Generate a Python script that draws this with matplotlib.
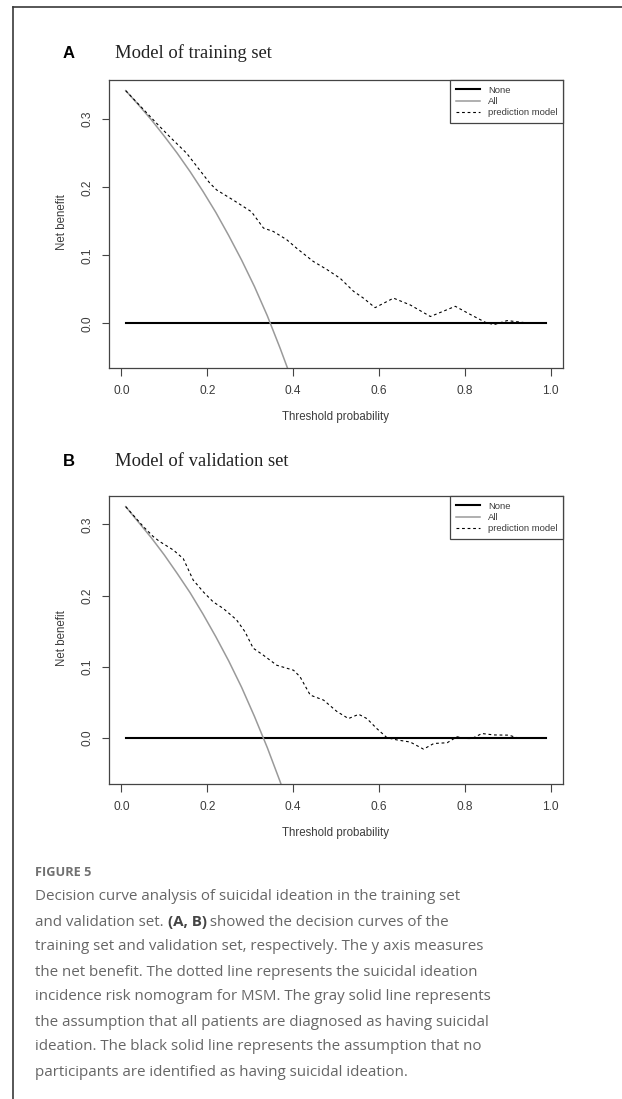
import numpy as np
import matplotlib
matplotlib.use("Agg")
import matplotlib.pyplot as plt
from matplotlib.lines import Line2D

# ---- data ----
thresh_all = [0.01, 0.04, 0.07, 0.10, 0.13, 0.16, 0.19, 0.22, 0.25, 0.28, 0.31, 0.34, 0.37, 0.40]
all_train = [0.342, 0.321, 0.299, 0.275, 0.250, 0.223, 0.194, 0.163, 0.129, 0.093, 0.054, 0.011, -0.037, -0.088]
all_valid = [0.325, 0.303, 0.281, 0.257, 0.231, 0.204, 0.174, 0.142, 0.108, 0.071, 0.030, -0.014, -0.062, -0.115]

thresh_train = [0.01, 0.082, 0.113, 0.152, 0.206, 0.222, 0.261, 0.303, 0.331, 0.354, 0.385, 0.409,
                0.447, 0.479, 0.510, 0.541, 0.564, 0.591, 0.634, 0.673, 0.720, 0.778, 0.813, 0.848,
                0.868, 0.899, 0.946, 0.99]
model_train = [0.342, 0.294, 0.274, 0.250, 0.206, 0.196, 0.181, 0.164, 0.140, 0.135, 0.123, 0.110,
               0.091, 0.079, 0.066, 0.047, 0.037, 0.023, 0.037, 0.027, 0.010, 0.025, 0.013, 0.0015,
               -0.002, 0.004, 0.0005, 0.0]

thresh_valid = [0.01, 0.051, 0.074, 0.089, 0.121, 0.144, 0.167, 0.191, 0.214, 0.237, 0.268, 0.288,
                0.307, 0.331, 0.362, 0.401, 0.416, 0.440, 0.471, 0.502, 0.529, 0.553, 0.572, 0.595,
                0.619, 0.642, 0.673, 0.704, 0.728, 0.759, 0.782, 0.802, 0.817, 0.840, 0.868, 0.903,
                0.922, 0.99]
model_valid = [0.325, 0.297, 0.283, 0.276, 0.264, 0.252, 0.222, 0.205, 0.191, 0.182, 0.166, 0.149,
               0.126, 0.116, 0.102, 0.095, 0.086, 0.060, 0.053, 0.037, 0.027, 0.033, 0.027, 0.013,
               0.0, -0.003, -0.006, -0.016, -0.008, -0.007, 0.0014, -0.001, -0.001, 0.006, 0.004,
               0.0037, 0.0, 0.0]

x_ticks = [0.0, 0.2, 0.4, 0.6, 0.8, 1.0]
y_ticks = [0.0, 0.1, 0.2, 0.3]

W, H = 622, 1099
fig = plt.figure(figsize=(W / 100, H / 100), dpi=100)


def fx(x):
    return x / W


def fy(y):
    return 1 - y / H


# outer frame
fig.add_artist(Line2D([fx(12.5), fx(12.5)], [fy(7), fy(1099)], color="#3a3a3a", lw=1.2))
fig.add_artist(Line2D([fx(12.5), fx(622)], [fy(7), fy(7)], color="#3a3a3a", lw=1.2))

txt_col = "#3c3c3c"
panels = [
    ("A", "Model of training set", 80, 58, all_train, thresh_train, model_train, (-0.0657, 0.3577)),
    ("B", "Model of validation set", 496, 466, all_valid, thresh_valid, model_valid, (-0.065, 0.340)),
]

for letter, title, top, base, all_y, tx, my, ylim in panels:
    ax = fig.add_axes([fx(109), fy(top + 288), fx(563) - fx(109), 288 / H])
    ax.plot([0.01, 0.99], [0, 0], color="black", lw=1.5, label="None")
    ax.plot(thresh_all, all_y, color="#9a9a9a", lw=1.1, label="All")
    ax.plot(tx, my, color="black", lw=0.8, dashes=(2.5, 2.5), label="prediction model")
    ax.set_xlim(-0.029, 1.029)
    ax.set_ylim(*ylim)
    ax.set_xticks(x_ticks)
    ax.set_xticklabels(["0.0", "0.2", "0.4", "0.6", "0.8", "1.0"])
    ax.set_yticks(y_ticks)
    ax.set_yticklabels(["0.0", "0.1", "0.2", "0.3"], rotation=90, va="center")
    ax.tick_params(axis="both", length=5.4, width=0.8, color="#444444",
                   labelsize=8.6, labelcolor=txt_col, labelfontfamily="Liberation Sans")
    ax.tick_params(axis="x", pad=6.5)
    ax.tick_params(axis="y", pad=5.5)
    for s in ax.spines.values():
        s.set_color("#444444")
        s.set_linewidth(0.9)
    leg = ax.legend(loc="upper right", bbox_to_anchor=(1.0, 1.0), borderaxespad=0,
                    fancybox=False, framealpha=1, edgecolor="#444444",
                    prop={"family": "Liberation Sans", "size": 6.8},
                    handlelength=2.6, labelspacing=0.25, borderpad=0.6, handletextpad=0.8)
    leg.get_frame().set_linewidth(0.9)
    for t in leg.get_texts():
        t.set_color(txt_col)

    fig.text(fx(335.7), fy(top + 337), "Threshold probability", ha="center", va="center",
             fontsize=8.3, color=txt_col, family="Liberation Sans")
    fig.text(fx(62), fy(top + 142), "Net benefit", ha="center", va="center", rotation=90,
             fontsize=8.3, color=txt_col, family="Liberation Sans")
    fig.text(fx(63), fy(base), letter, ha="left", va="baseline", fontsize=12,
             fontweight="bold", family="Liberation Sans", color="black")
    fig.text(fx(115), fy(base), title, ha="left", va="baseline", fontsize=13.4,
             family="Liberation Serif", color="#222222")

cap_col = "#666666"
cap_size = 10.9
fig.text(fx(35), fy(873), "FIGURE 5", ha="left", va="center", fontsize=9.2,
         fontweight="bold", family="Open Sans", color="#707070")

caption = [
    "Decision curve analysis of suicidal ideation in the training set",
    None,
    "training set and validation set, respectively. The y axis measures",
    "the net benefit. The dotted line represents the suicidal ideation",
    "incidence risk nomogram for MSM. The gray solid line represents",
    "the assumption that all patients are diagnosed as having suicidal",
    "ideation. The black solid line represents the assumption that no",
    "participants are identified as having suicidal ideation.",
]
renderer = fig.canvas.get_renderer()
for i, line in enumerate(caption):
    y = fy(897 + 25 * i)
    if line is not None:
        fig.text(fx(35), y, line, ha="left", va="center", fontsize=cap_size,
                 family="Open Sans", color=cap_col)
        continue
    # line with bold panel letters
    x = fx(35)
    for part, weight, col in [("and validation set. ", "normal", cap_col),
                              ("(A, B)", "bold", "#444444"),
                              (" showed the decision curves of the", "normal", cap_col)]:
        t = fig.text(x, y, part, ha="left", va="center", fontsize=cap_size,
                     family="Open Sans", fontweight=weight, color=col)
        bb = t.get_window_extent(renderer=renderer)
        x = x + bb.width / (W)

fig.savefig("out.png", dpi=100)
